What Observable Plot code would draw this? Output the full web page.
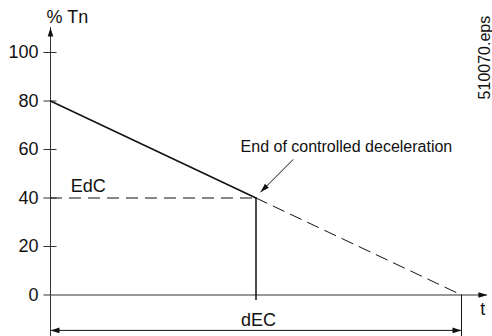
<!DOCTYPE html>
<html><head><meta charset="utf-8">
<script src="https://cdn.jsdelivr.net/npm/d3@7"></script>
<script src="https://cdn.jsdelivr.net/npm/@observablehq/plot@0.6"></script>
<style>body{margin:0;background:#fff} svg{display:block}</style>
</head><body><div id="chart"></div>
<script>
// ---- data ----
const yTicks = [0, 20, 40, 60, 80, 100];
const timePct = [0, 50, 100];      // normalized time
const torquePct = [80, 40, 0];     // % Tn
const edcLevel = 40;               // EdC torque level
const decEnd = 50;                 // dEC (end of controlled deceleration)
const rampEnd = 100;               // full ramp end
const yLabel = "% Tn";
const xLabel = "t";
const edcLabel = "EdC";
const decLabel = "dEC";
const noteLabel = "End of controlled deceleration";
const fileLabel = "510070.eps";

const pts = timePct.map((t, i) => ({t, v: torquePct[i]}));

// filled arrowhead symbol, tip at origin, screen angle in degrees
function arrowHead(angle, len = 9, half = 2.8) {
  const a = angle * Math.PI / 180, c = Math.cos(a), s = Math.sin(a);
  return {draw(ctx) {
    const bx = -len * c, by = -len * s, px = -s * half, py = c * half;
    ctx.moveTo(0, 0); ctx.lineTo(bx + px, by + py); ctx.lineTo(bx - px, by - py); ctx.closePath();
  }};
}

const ink = "#111";
const font = "Liberation Sans, Arial, Helvetica, sans-serif";
const fs = 16;   // annotation text
const fl = 18;   // axis / label text

const chart = Plot.plot({
  width: 492, height: 336,
  marginTop: 0, marginRight: 0, marginBottom: 0, marginLeft: 0,
  x: {domain: [0, 100], range: [50, 461], axis: null},
  y: {domain: [0, 100], range: [294.5, 52], axis: null},
  style: {fontFamily: font, fontSize: fs + "px", color: ink, background: "#fff"},
  marks: [
    // y axis line + arrow
    Plot.ruleX([0], {x: d => d, y1: -17.5, y2: 110.3, stroke: "#333", strokeWidth: 1}),
    Plot.dot([0], {x: d => d, y: 110.3, symbol: arrowHead(-90), r: 3, fill: ink, stroke: "none"}),
    // x axis line + arrow
    Plot.ruleY([0], {y: d => d, x1: -1.6, x2: 106.3, stroke: "#333", strokeWidth: 1}),
    Plot.dot([0], {x: 106.3, y: d => d, symbol: arrowHead(0), r: 3, fill: ink, stroke: "none"}),
    // y ticks crossing the axis
    Plot.ruleY(yTicks.filter(d => d > 0), {y: d => d, x1: -1.6, x2: 1.6, stroke: "#333", strokeWidth: 1}),
    Plot.text(yTicks, {x: 0, y: d => d, text: d => String(d), textAnchor: "end", dx: -12, fontSize: fl, fill: ink}),
    // axis titles
    Plot.text([yLabel], {x: 0, y: 114.6, text: d => d, textAnchor: "start", dx: -4, fontSize: fl, fill: ink}),
    Plot.text([xLabel], {x: 105.2, y: -5.8, text: d => d, fontSize: fl, fill: ink}),
    // EdC dashed level
    Plot.ruleY([edcLevel], {y: d => d, x1: 0, x2: decEnd, stroke: ink, strokeWidth: 1, strokeDasharray: "12,7"}),
    Plot.text([edcLabel], {x: 9.2, y: 44.8, text: d => d, fontSize: fl, fill: ink}),
    // torque ramp: solid until dEC, dashed afterwards
    Plot.line(pts.slice(0, 2), {x: "t", y: "v", stroke: ink, strokeWidth: 1.5}),
    Plot.line(pts.slice(1), {x: "t", y: "v", stroke: ink, strokeWidth: 1, strokeDasharray: "12,7"}),
    // vertical markers
    Plot.ruleX([decEnd], {x: d => d, y1: edcLevel, y2: -2.3, stroke: ink, strokeWidth: 1.5}),
    Plot.ruleX([rampEnd], {x: d => d, y1: 0, y2: -17.5, stroke: ink, strokeWidth: 1}),
    // dEC dimension line with arrows
    Plot.ruleY([-14.6], {y: d => d, x1: 0, x2: rampEnd, stroke: ink, strokeWidth: 1}),
    Plot.dot([0], {x: d => d, y: -14.6, symbol: arrowHead(180), r: 3, fill: ink, stroke: "none"}),
    Plot.dot([rampEnd], {x: d => d, y: -14.6, symbol: arrowHead(0), r: 3, fill: ink, stroke: "none"}),
    Plot.text([decLabel], {x: decEnd + 0.6, y: -10.6, text: d => d, fontSize: fl, fill: ink}),
    // annotation
    Plot.text([noteLabel], {x: 72, y: 61.2, text: d => d, fontSize: fs, fill: ink}),
    Plot.link([0], {x1: 59.05, y1: 55.9, x2: 51.1, y2: 42.4, stroke: ink, strokeWidth: 1}),
    Plot.dot([0], {x: 51.1, y: 42.4, symbol: arrowHead(135), r: 3, fill: ink, stroke: "none"}),
    // file id
    Plot.text([fileLabel], {x: 105.8, y: 97.9, text: d => d, rotate: -90, fontSize: fs, fill: ink})
  ]
});
document.getElementById("chart").appendChild(chart);
</script>
</body></html>
